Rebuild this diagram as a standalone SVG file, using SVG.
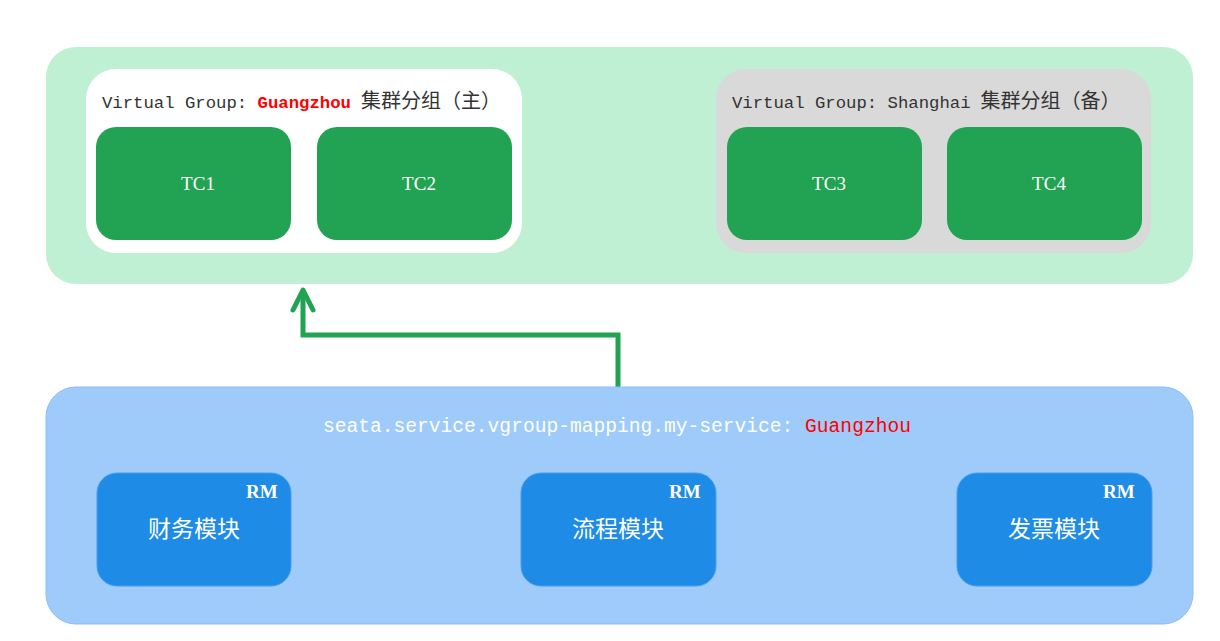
<svg xmlns="http://www.w3.org/2000/svg" width="1220" height="641" viewBox="0 0 1220 641">
<style>
.tc{fill:#22a353}
.tct{font-family:"Liberation Serif","Noto Sans CJK SC",serif;font-size:19px;fill:#fff;text-anchor:middle}
.rm{fill:#1e8be6;stroke:#4a9ded;stroke-width:1}
.rmt{font-family:"Liberation Serif","Noto Sans CJK SC",serif;font-size:19px;font-weight:bold;fill:#fff}
.lab{font-family:"Noto Sans CJK SC",sans-serif;font-size:23px;fill:#fff;text-anchor:middle}
.mono{font-family:"Liberation Mono","Noto Sans CJK SC",monospace}
.cjk{font-family:"Noto Sans CJK SC",sans-serif}
</style>
<rect width="1220" height="641" fill="#fff"/>
<g id="tc-cluster">
<rect x="46" y="47" width="1147" height="237" rx="30" fill="#c0f0d4"/>
</g>
<g id="guangzhou-group">
<rect x="86" y="69" width="436" height="184" rx="30" fill="#fff"/>
<text x="102" y="108" class="mono" font-size="17.3" fill="#333"><tspan>Virtual Group: </tspan><tspan fill="#ff0000" font-weight="bold">Guangzhou</tspan><tspan class="cjk" font-size="20" dx="10">集群分组（主）</tspan></text>
</g>
<g id="tc1"><rect class="tc" x="96" y="127" width="195" height="113" rx="20"/><text class="tct" x="198" y="190">TC1</text></g>
<g id="tc2"><rect class="tc" x="317" y="127" width="195" height="113" rx="20"/><text class="tct" x="419" y="190">TC2</text></g>
<g id="shanghai-group">
<rect x="716" y="69" width="435" height="184" rx="30" fill="#d9d9d9"/>
<text x="732" y="108" class="mono" font-size="17.3" fill="#333"><tspan>Virtual Group: Shanghai</tspan><tspan class="cjk" font-size="20" dx="10">集群分组（备）</tspan></text>
</g>
<g id="tc3"><rect class="tc" x="727" y="127" width="195" height="113" rx="20"/><text class="tct" x="829" y="190">TC3</text></g>
<g id="tc4"><rect class="tc" x="947" y="127" width="195" height="113" rx="20"/><text class="tct" x="1049" y="190">TC4</text></g>
<g id="connectors">
<path d="M618 387 V335 H303 V290" fill="none" stroke="#22a353" stroke-width="5"/>
<path d="M293 310 L303 290 L313 310" fill="none" stroke="#22a353" stroke-width="5" stroke-linecap="round" stroke-linejoin="round"/>
</g>
<g id="client-app">
<rect x="46" y="387" width="1147" height="237" rx="30" fill="#9ecbfa" stroke="#8cbdf3" stroke-width="1"/>
<text x="323" y="432" class="mono" font-size="19.6" fill="#fff"><tspan>seata.service.vgroup-mapping.my-service: </tspan><tspan fill="#ff0000">Guangzhou</tspan></text>
</g>
<g id="rm1"><rect class="rm" x="97" y="473" width="194" height="113" rx="20"/><text class="rmt" x="246" y="498">RM</text><text class="lab" x="194" y="537">财务模块</text></g>
<g id="rm2"><rect class="rm" x="521" y="473" width="195" height="113" rx="20"/><text class="rmt" x="669" y="498">RM</text><text class="lab" x="618" y="537">流程模块</text></g>
<g id="rm3"><rect class="rm" x="957" y="473" width="195" height="113" rx="20"/><text class="rmt" x="1103" y="498">RM</text><text class="lab" x="1054" y="537">发票模块</text></g>
</svg>
